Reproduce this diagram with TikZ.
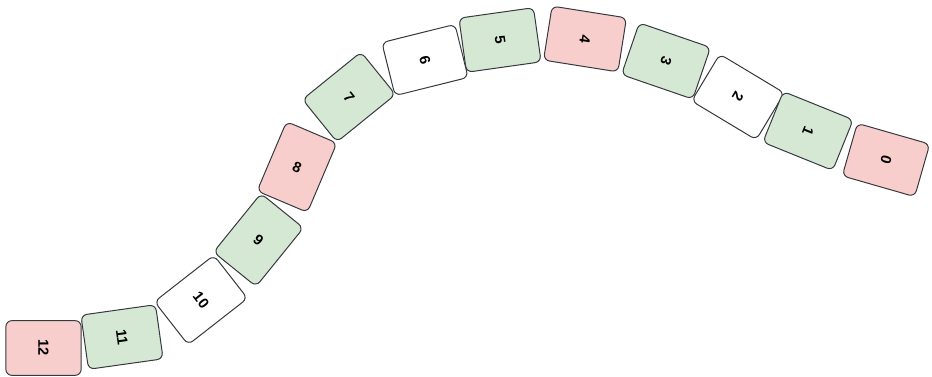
\documentclass[tikz,border=0pt]{standalone}
\usepackage{fontspec}
\setmainfont{Liberation Sans}
\definecolor{gfill}{HTML}{D5E8D4}
\definecolor{rfill}{HTML}{F8CECC}
\definecolor{bstroke}{HTML}{36393D}
\tikzset{
  seg/.style={draw=bstroke, line width=0.75pt, rounded corners=4.5pt,
    minimum width=41pt, minimum height=56.5pt, inner sep=0pt,
    font=\fontsize{11}{13}\selectfont\bfseries},
  gseg/.style={seg, fill=gfill},
  rseg/.style={seg, fill=rfill},
  wseg/.style={seg, fill=white}
}
\begin{document}
\begin{tikzpicture}[x=0.75pt, y=-0.75pt]
\useasboundingbox (0,0) rectangle (932,377);
\node[rseg, rotate=-90]  (n12) at (43.5,348) {12};
\node[gseg, rotate=-82]  (n11) at (122,337) {11};
\node[wseg, rotate=-52]  (n10) at (201,300) {10};
\node[gseg, rotate=-39]  (n9)  at (258.5,240) {9};
\node[rseg, rotate=-23]  (n8)  at (297,167) {8};
\node[gseg, rotate=-51]  (n7)  at (349,97) {7};
\node[wseg, rotate=-76]  (n6)  at (425,60) {6};
\node[gseg, rotate=-82]  (n5)  at (500,40) {5};
\node[rseg, rotate=-99]  (n4)  at (585,39) {4};
\node[gseg, rotate=-109] (n3)  at (666,61) {3};
\node[wseg, rotate=-121] (n2)  at (738,97) {2};
\node[gseg, rotate=-112] (n1)  at (808,131) {1};
\node[rseg, rotate=-106] (n0)  at (886,160) {0};
\end{tikzpicture}
\end{document}
